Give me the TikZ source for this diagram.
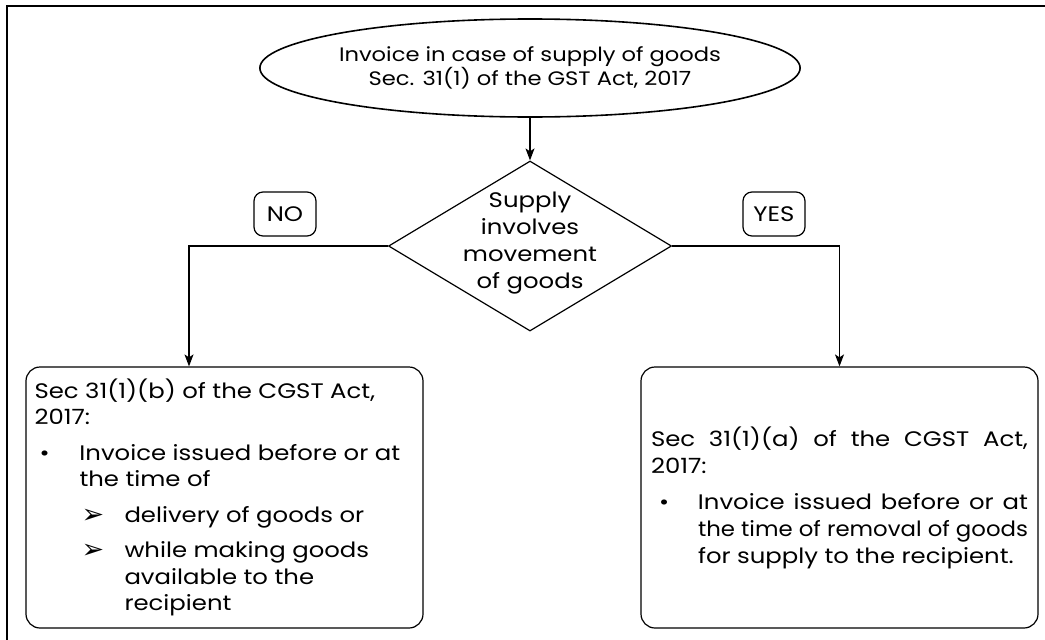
\documentclass[tikz,border=0pt]{standalone}
\usepackage{graphicx}
\usepackage{fontspec}
\setmainfont{Poppins}[FakeStretch=1.16]
\newfontfamily\symfont{DejaVu Sans}
\usetikzlibrary{shapes.geometric,arrows.meta}
\newcommand{\arrowbullet}{\makebox[43pt][l]{\symfont\fontsize{27}{27}\selectfont\raisebox{-1pt}{➢}}}
\begin{document}
\begin{tikzpicture}[x=1pt,y=-1pt,
  conn/.style={line width=1.2pt},
  arr/.style={conn,-{Stealth[length=12pt,width=9pt,inset=3pt]}},
  txtbox/.style={draw,line width=1.2pt,rounded corners=14pt,minimum width=397pt,minimum height=261pt,inner sep=0pt},
  lab/.style={draw,line width=1.2pt,rounded corners=9pt,minimum width=62pt,minimum height=44pt,inner sep=0pt,font=\fontsize{21}{24}\selectfont},
]
\useasboundingbox (0,0) rectangle (1045,640);
\draw[line width=2.5pt] (7,640) -- (7,6) -- (1045,6);

\node[ellipse,draw,line width=1.6pt,minimum width=514pt,minimum height=98pt,inner sep=0pt,align=center,font=\fontsize{19.5}{21}\selectfont] (title) at (530,68) {Invoice in case of supply of goods\\Sec. 31(1) of the GST Act, 2017};

\node[diamond,draw,line width=1.2pt,minimum width=283pt,minimum height=170pt,inner sep=0pt] (dec) at (530,246) {};
\node[align=center,inner sep=0pt,font=\fontsize{21}{27}\selectfont] (dectext) at (530,243) {Supply\\involves\\movement\\of goods};

\node[lab] (no) at (285,214) {NO};
\node[lab] (yes) at (774,214) {YES};

\node[txtbox] (lbox) at (224.5,497.5) {\parbox{380pt}{\fontsize{21}{26.5}\selectfont\raggedright
Sec 31(1)(b) of the CGST Act,\\2017:\par
\vspace{9pt}\leftskip=45pt\noindent\llap{\makebox[45pt][l]{\hspace{5pt}•}}Invoice issued before or at\\the time of\par
\vspace{9pt}\leftskip=90pt\noindent\llap{\arrowbullet}delivery of goods or\par
\vspace{9pt}\noindent\llap{\arrowbullet}while making goods\\available to the\\recipient\par}};

\node[txtbox] (rbox) at (839.5,497.5) {\parbox{377pt}{\fontsize{21}{27}\selectfont
\makebox[377pt][s]{Sec 31(1)(a) of the CGST Act,}\\
2017:\\[9pt]
\makebox[47pt][l]{\hspace{8pt}•}\makebox[330pt][s]{Invoice issued before or at}\\
\hspace*{47pt}\resizebox{330pt}{\height}{the time of removal of goods}\\
\hspace*{47pt}for supply to the recipient.}};

\coordinate (lturn) at (189,246);
\draw[arr] (title.south) -- (dec.north);
\draw[arr] (dec.west) -- (lturn) -- (lturn |- lbox.north);
\draw[arr] (dec.east) -| (rbox.north);
\end{tikzpicture}
\end{document}
